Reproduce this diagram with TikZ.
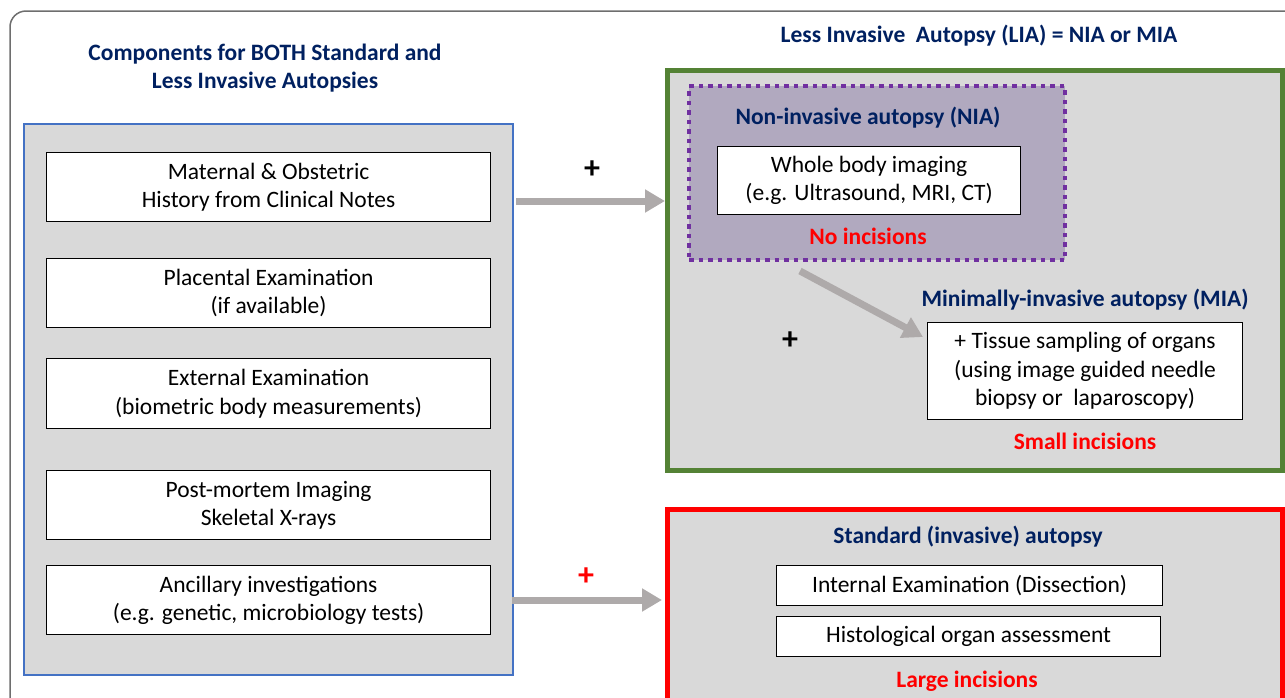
\documentclass[tikz,border=0pt]{standalone}
\usepackage{fontspec}
\setmainfont{Carlito}
\usetikzlibrary{arrows.meta}
\definecolor{panelgray}{RGB}{217,217,217}
\definecolor{navy}{RGB}{0,32,96}
\definecolor{lgreen}{RGB}{84,130,53}
\definecolor{lpurple}{RGB}{112,48,160}
\definecolor{purplefill}{RGB}{177,169,191}
\definecolor{arrowgray}{RGB}{174,170,170}
\definecolor{panelblue}{RGB}{68,114,196}
\definecolor{framegray}{RGB}{110,110,110}
\tikzset{
  txtbox/.style={draw=black, line width=1.2pt, fill=white, align=center, font=\fontsize{23.5}{28.5}\selectfont, inner sep=0pt, anchor=north west},
  heading/.style={text=navy, font=\bfseries\fontsize{23.5}{28.5}\selectfont, align=center},
  redlabel/.style={text=red, font=\bfseries\fontsize{23.5}{28}\selectfont},
  bigarrow/.style={draw=arrowgray, line width=7pt, -{Triangle[length=20pt,width=22pt]}},
  plus/.style={font=\bfseries\fontsize{32}{32}\selectfont}
}
\begin{document}
\begin{tikzpicture}[x=1pt,y=-1pt]
\useasboundingbox (0,0) rectangle (1285,697);
\begin{scope}
\clip (0,0) rectangle (1285,697);
% outer frame
\draw[framegray, line width=1.5pt, rounded corners=16pt] (10,11) rectangle (1310,730);
% left panel
\node[draw=panelblue, line width=1.5pt, fill=panelgray, anchor=north west, minimum width=489pt, minimum height=551pt, inner sep=0pt] (left) at (23,123) {};
\node[heading] (lefttitle) at (265,68) {Components for BOTH Standard and\\Less Invasive Autopsies};
\node[txtbox, minimum width=444pt, minimum height=69pt] (b1) at (46,152) {Maternal \& Obstetric\\History from Clinical Notes};
\node[txtbox, minimum width=444pt, minimum height=69pt] (b2) at (46,258) {Placental Examination\\(if available)};
\node[txtbox, minimum width=444pt, minimum height=70pt] (b3) at (46,358) {External Examination\\(biometric body measurements)};
\node[txtbox, minimum width=444pt, minimum height=69pt] (b4) at (46,470) {Post-mortem Imaging\\Skeletal X-rays};
\node[txtbox, minimum width=444pt, minimum height=69pt] (b5) at (46,565) {Ancillary investigations\\(e.g. genetic, microbiology tests)};
% LIA panel
\node[heading] (liatitle) at (979,36) {Less Invasive\ \ Autopsy (LIA) = NIA or MIA};
\node[draw=lgreen, line width=5pt, fill=panelgray, anchor=north west, minimum width=615pt, minimum height=400pt, inner sep=0pt] (lia) at (665,68) {};
\node[draw=lpurple, line width=4pt, dash pattern=on 4.5pt off 5pt, fill=purplefill, anchor=north west, minimum width=376pt, minimum height=174pt, inner sep=0pt] (nia) at (687,84) {};
\node[heading] (niatitle) at (868,118) {Non-invasive autopsy (NIA)};
\node[txtbox, minimum width=303pt, minimum height=68pt] (wbi) at (717,146) {Whole body imaging\\(e.g. Ultrasound, MRI, CT)};
\node[redlabel] (noinc) at (868,236) {No incisions};
\node[heading] (miatitle) at (1085,300) {Minimally-invasive autopsy (MIA)};
\node[txtbox, minimum width=315pt, minimum height=97pt] (tis) at (927,322) {+ Tissue sampling of organs\\(using image guided needle\\biopsy or\ \ laparoscopy)};
\node[redlabel] (smallinc) at (1085,441) {Small incisions};
\node[plus] (plus3) at (790,341) {+};
% standard panel
\node[draw=red, line width=5pt, fill=panelgray, anchor=north west, minimum width=615pt, minimum height=220pt, inner sep=0pt] (std) at (665,507) {};
\node[heading] (stdtitle) at (968,537) {Standard (invasive) autopsy};
\node[txtbox, minimum width=386pt, minimum height=40pt] (ie) at (776,565) {Internal Examination (Dissection)};
\node[txtbox, minimum width=384pt, minimum height=40pt] (ho) at (776,616) {Histological organ assessment};
\node[redlabel] (largeinc) at (967,681) {Large incisions};
% arrows
\node[plus] (plus1) at (592,170) {+};
\node[plus, text=red] (plus2) at (586,577) {+};
\coordinate (a1s) at (516,201);
\coordinate (a2s) at (512,600);
\draw[bigarrow] (a1s) -- (lia.west |- a1s);
\draw[bigarrow] (a2s) -- ([xshift=-3pt]std.west |- a2s);
\coordinate (a3s) at (800,271);
\coordinate (a3e) at (923,337);
\draw[bigarrow] (a3s) -- (a3e);
\end{scope}
\end{tikzpicture}
\end{document}
